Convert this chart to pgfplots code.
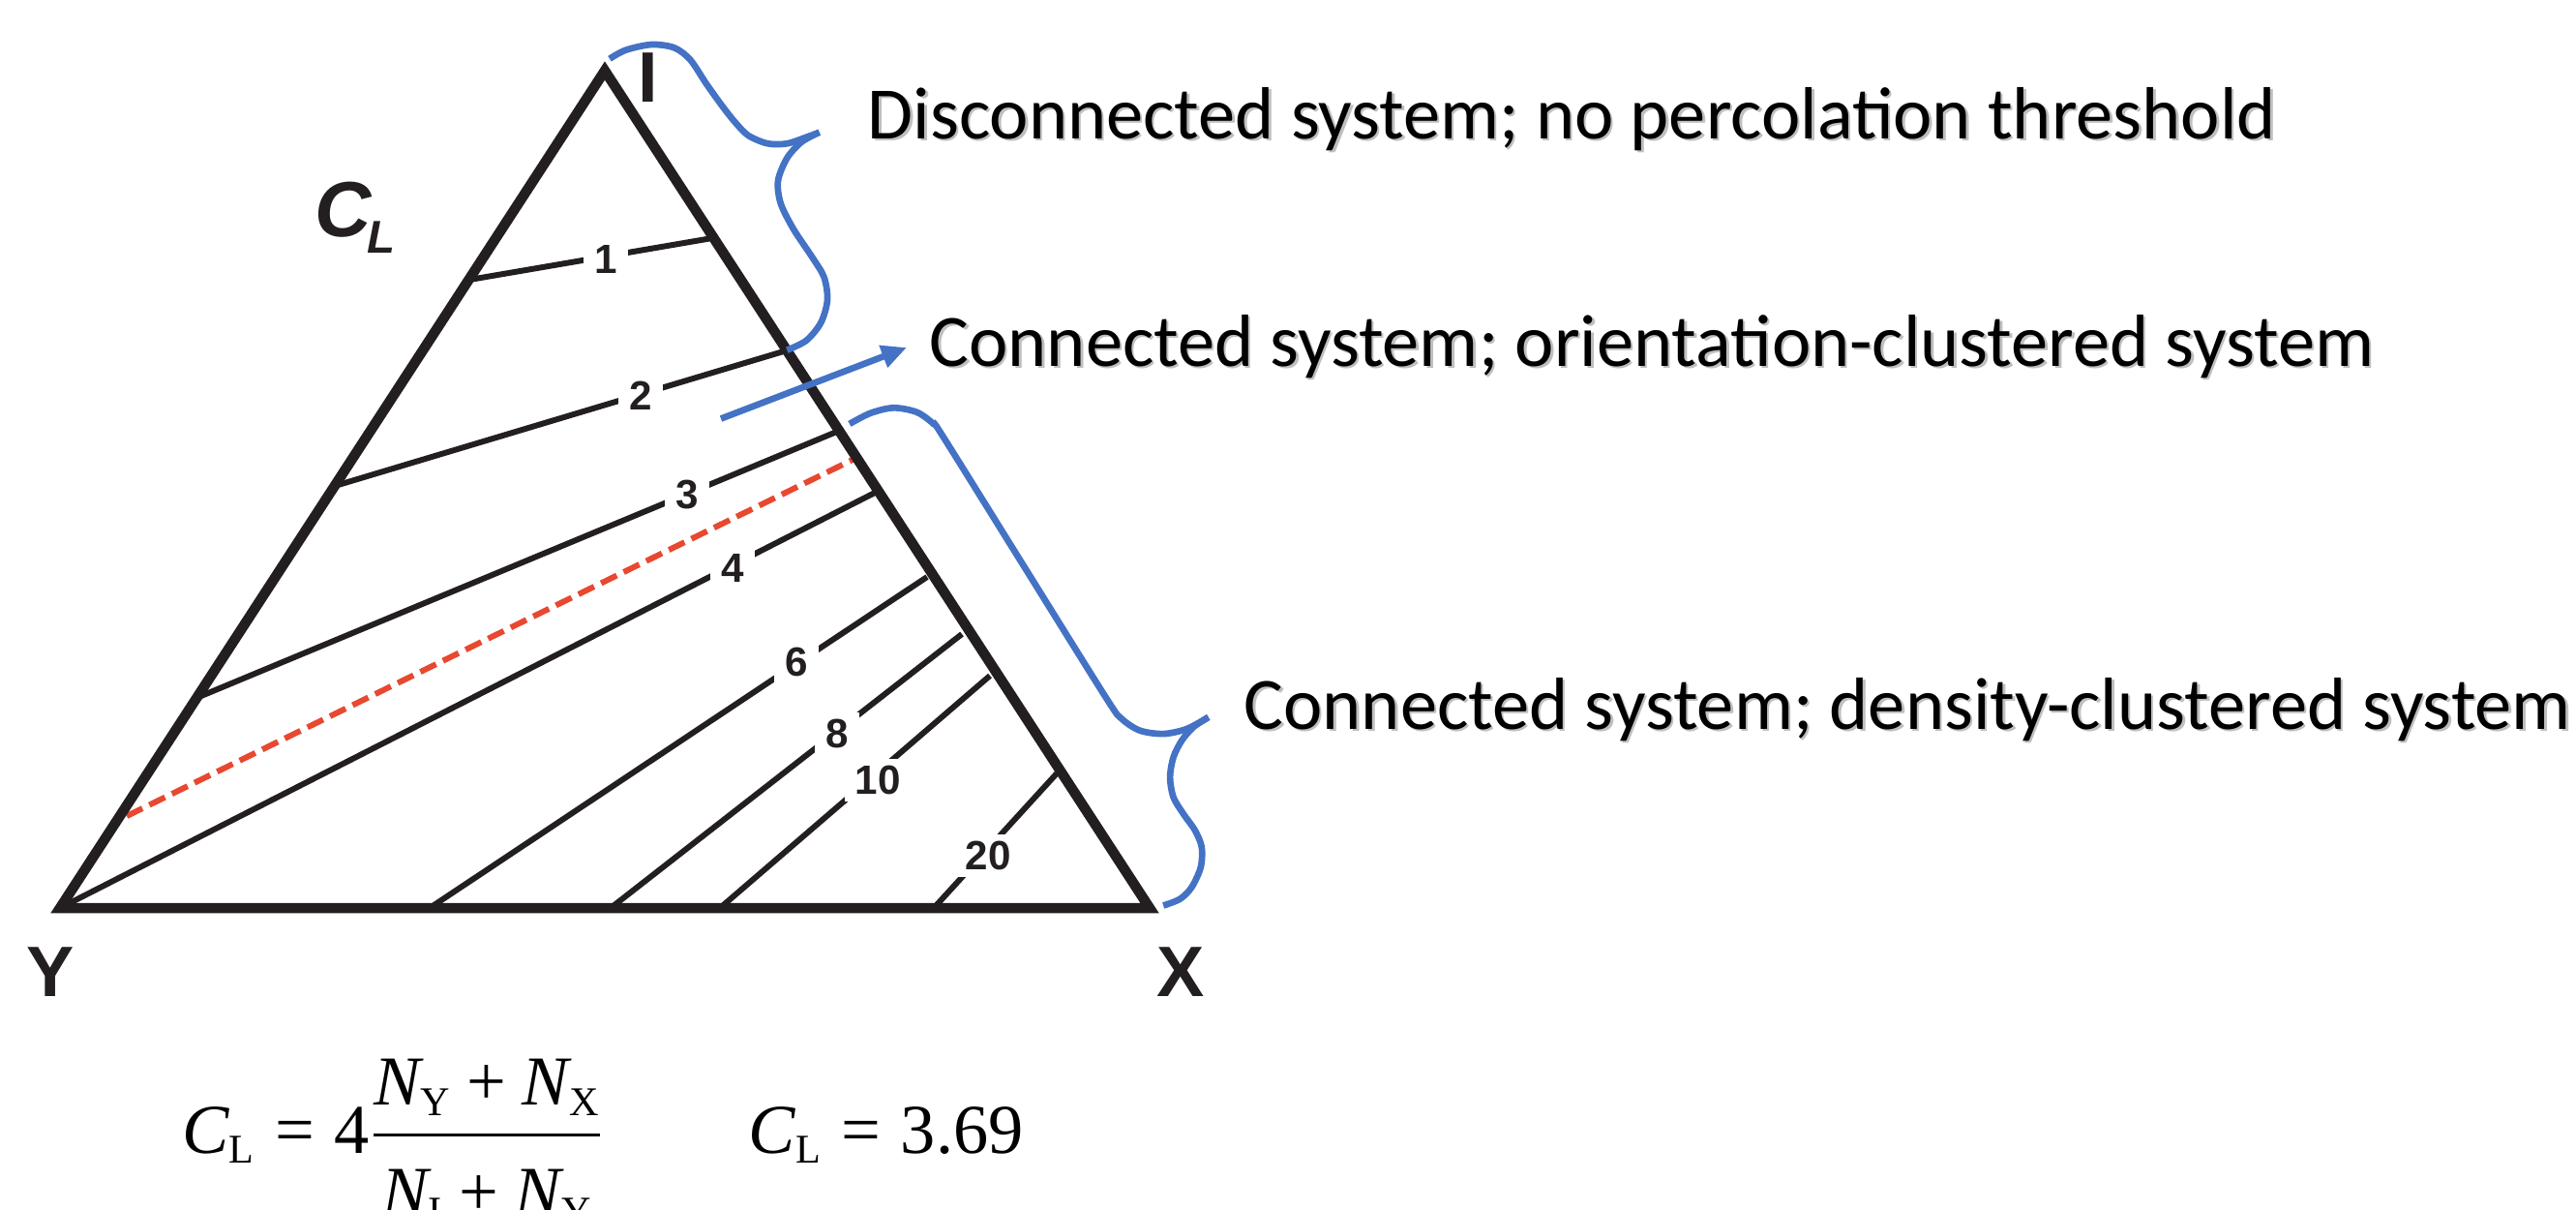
\documentclass[border=0pt]{standalone}
\usepackage{pgfplots}
\pgfplotsset{compat=1.18}
\usepackage{amsmath}
\usepackage{fontspec}
\setmainfont{Carlito}
\newfontfamily\helv{Liberation Sans}
\newfontfamily\tms{Liberation Serif}
\usetikzlibrary{arrows.meta}
\definecolor{ink}{RGB}{35,31,32}
\definecolor{bracecol}{RGB}{68,114,196}
\definecolor{redline}{RGB}{232,72,48}
\DeclareMathSizes{20.6}{20.6}{12}{9}

\begin{document}
\begin{tikzpicture}[
  iso/.style={ink, line width=1.7pt},
  lab/.style={fill=white, inner xsep=1.1mm, inner ysep=0.7mm, text=ink,
    font=\helv\bfseries\fontsize{12}{14}\selectfont},
  desc/.style={anchor=base west, inner sep=0, font=\fontsize{21.75}{25}\selectfont},
  vert/.style={text=ink, font=\helv\bfseries\fontsize{21}{25}\selectfont},
  frm/.style={anchor=base west, inner sep=0, font=\tms\fontsize{20.6}{24}\selectfont},
  brc/.style={bracecol, line width=1.9pt},
]
\begin{axis}[
  at={(0,0)}, anchor=south west,
  scale only axis, width=26.62cm, height=12.49cm,
  xmin=0, xmax=2662, ymin=0, ymax=1249,
  y dir=reverse,
  axis lines=none, xtick=\empty, ytick=\empty,
  clip=false,
]

% C_L isolines
\addplot[iso, no marks] coordinates {(485,289) (736,246)};
\addplot[iso, no marks] coordinates {(346,502) (813,362)};
\addplot[iso, no marks] coordinates {(203,721) (867,445)};
\addplot[iso, no marks] coordinates {(62,938) (904,509)};
\addplot[iso, no marks] coordinates {(444,938) (958,596)};
\addplot[iso, no marks] coordinates {(631,938) (994,655)};
\addplot[iso, no marks] coordinates {(744,938) (1023,698)};
\addplot[iso, no marks] coordinates {(965,938) (1092,799)};

% measured value C_L = 3.69
\addplot[redline, line width=1.7pt, dash pattern=on 1.8mm off 0.8mm, no marks]
  coordinates {(131,843) (887,472)};

% triangle
\addplot[ink, line width=1.05mm, line join=miter, no marks]
  coordinates {(62,938) (625,73) (1188,938) (62,938) (625,73)};

% isoline labels
\node[lab] at (626,268) {1};
\node[lab] at (662,409) {2};
\node[lab] at (710,511) {3};
\node[lab] at (757,587) {4};
\node[lab] at (823,684) {6};
\node[lab] at (865,758) {8};
\node[lab] at (907,806) {10};
\node[lab] at (1021,884) {20};

% vertices
\node[vert] at (670,80) {I};
\node[vert] at (52,1004) {Y};
\node[vert] at (1220,1004) {X};
\node[anchor=base west, inner sep=0, text=ink, font=\helv\bfseries\itshape\fontsize{23}{27}\selectfont] at (325,244) {C};
\node[anchor=base west, inner sep=0, text=ink, font=\helv\bfseries\itshape\fontsize{13.5}{15}\selectfont] at (379,261) {L};

% braces and arrow
\addplot[brc, smooth, tension=0.5, no marks] coordinates {
  (630,60.7) (646.7,51.7) (673.3,46) (696.7,49.3) (713.3,61.7) (730,86.7)
  (746.7,110) (760,126.7) (773.3,140) (793.3,148.3) (813.3,148.3)
  (833.3,141.7) (846.7,136.7)};
\addplot[brc, smooth, tension=0.5, no marks] coordinates {
  (846.7,136.7) (828.3,146.7) (813.3,163.3) (804,186.7) (806.7,210)
  (820,236.7) (840,266.7) (851.7,286.7) (855,310) (848.3,333.3)
  (833.3,351.7) (813.3,361.7)};
\addplot[brc, smooth, tension=0.5, no marks] coordinates {
  (877.9,437.9) (899.2,426.9) (923.3,421.3) (947.4,425.8) (964.6,437.9)
  (975,451.7) (1060,588) (1143.7,722) (1159.2,742.6) (1178.1,754.7)
  (1202.2,758.1) (1226.3,753) (1248.7,740.9)};
\addplot[brc, smooth, tension=0.5, no marks] coordinates {
  (1248.7,740.9) (1233.2,751.2) (1221.2,765) (1212.6,782.2) (1209.1,802.9)
  (1212.6,823.6) (1222.9,840.8) (1235,858) (1241.8,875.2) (1240.8,895.9)
  (1231.5,916.5) (1219.5,928.6) (1202.2,935.5)};
\addplot[brc, no marks, -{Triangle[length=2.6mm, width=2.3mm]}]
  coordinates {(745,432.5) (937,359)};

% descriptions (with a light shadow)
\node[desc, text=black!25] at (898.5,145.5) {Disconnected system; no percolation threshold};
\node[desc] at (896,143) {Disconnected system; no percolation threshold};
\node[desc, text=black!25] at (962.5,380.5) {Connected system; orientation-clustered system};
\node[desc] at (960,378) {Connected system; orientation-clustered system};
\node[desc, text=black!25] at (1287.5,755.5) {Connected system; density-clustered system};
\node[desc] at (1285,753) {Connected system; density-clustered system};

% formulas
\node[frm] at (188,1191)
  {$\textit{C}_{\text{L}} \mathrel{\text{=}} \text{4}\dfrac{\textit{N}_{\text{Y}} \mathbin{\text{+}} \textit{N}_{\text{X}}}{\rule{0pt}{20.5pt}\textit{N}_{\text{I}} \mathbin{\text{+}} \textit{N}_{\text{Y}}}$};
\node[frm] at (773,1191)
  {$\textit{C}_{\text{L}} \mathrel{\text{=}} \text{3.69}$};

\end{axis}
\pgfresetboundingbox
\path[use as bounding box] (0,0) rectangle (26.62cm,12.49cm);
\end{tikzpicture}
\end{document}
